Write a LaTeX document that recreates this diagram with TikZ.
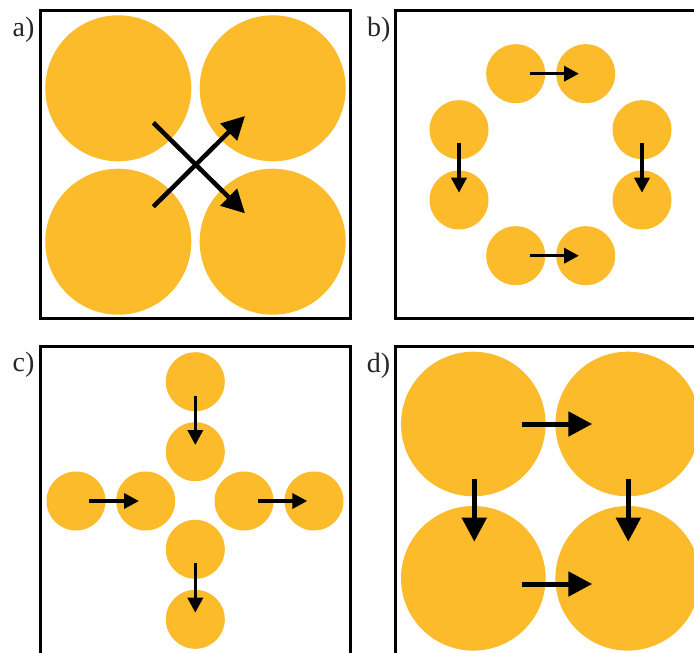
\documentclass[tikz,border=0pt]{standalone}
\usepackage{fontspec}
\setmainfont{Liberation Serif}
\usetikzlibrary{arrows.meta}
\definecolor{ballc}{RGB}{251,187,43}
\begin{document}
\begin{tikzpicture}[x=1pt,y=-1pt,
  bigball/.style={circle,fill=ballc,inner sep=0pt,minimum size=146pt},
  smallball/.style={circle,fill=ballc,inner sep=0pt,minimum size=59pt},
  frame/.style={line width=3pt,draw=black},
  lab/.style={anchor=base west,inner sep=0pt,font=\fontsize{28}{30}\selectfont,text=black!85},
  bigarrow/.style={line width=4.5pt,-{Triangle[length=23pt,width=23pt]}},
  darrow/.style={line width=5pt,-{Triangle[length=24pt,width=24pt]}},
  smallarrow/.style={line width=3.5pt,-{Triangle[length=15pt,width=15pt]}}]
\clip (0,0) rectangle (694,653);
\fill[white] (0,0) rectangle (694,653);
% panel a
\draw[frame] (40.7,10.7) rectangle (350,318);
\node[lab] (la) at (12.5,36) {a)};
\node[bigball] (a1) at (118.3,88.3) {};
\node[bigball] (a2) at (272.7,88.3) {};
\node[bigball] (a3) at (118.3,241.7) {};
\node[bigball] (a4) at (272.7,241.7) {};
\coordinate (as1) at (153.3,122.7); \coordinate (at1) at (245,213.3);
\coordinate (as2) at (153.3,206.7); \coordinate (at2) at (245,116);
\draw[bigarrow] (as1) -- (at1);
\draw[bigarrow] (as2) -- (at2);
% panel b
\draw[frame] (720,10.7) -- (395.7,10.7) -- (395.7,318) -- (720,318);
\node[lab] (lb) at (367,36) {b)};
\node[smallball] (b1) at (515.7,73.7) {};
\node[smallball] (b2) at (585.7,73.7) {};
\node[smallball] (b3) at (459,129.7) {};
\node[smallball] (b4) at (459,200) {};
\node[smallball] (b5) at (642,129.7) {};
\node[smallball] (b6) at (642,200) {};
\node[smallball] (b7) at (515.7,255.7) {};
\node[smallball] (b8) at (585.7,255.7) {};
\coordinate (bs1) at (530,73.7); \coordinate (bt1) at (579,73.7);
\coordinate (bs2) at (459,143.3); \coordinate (bt2) at (459,192.7);
\coordinate (bs3) at (642,143.3); \coordinate (bt3) at (642,192.7);
\coordinate (bs4) at (530,255.7); \coordinate (bt4) at (579,255.7);
\draw[smallarrow] (bs1) -- (bt1);
\draw[smallarrow] (bs2) -- (bt2);
\draw[smallarrow] (bs3) -- (bt3);
\draw[smallarrow] (bs4) -- (bt4);
% panel c
\draw[frame] (40.7,680) -- (40.7,346) -- (350,346) -- (350,680);
\node[lab] (lc) at (12.5,371.5) {c)};
\node[smallball] (c1) at (195.3,381.7) {};
\node[smallball] (c2) at (195.3,451.7) {};
\node[smallball] (c3) at (76,501) {};
\node[smallball] (c4) at (145.7,501) {};
\node[smallball] (c5) at (244,501) {};
\node[smallball] (c6) at (314,501) {};
\node[smallball] (c7) at (195.3,549.3) {};
\node[smallball] (c8) at (195.3,619.3) {};
\coordinate (cs1) at (195.3,395.7); \coordinate (ct1) at (195.3,445);
\coordinate (cs2) at (89.3,501); \coordinate (ct2) at (139,501);
\coordinate (cs3) at (257.7,501); \coordinate (ct3) at (307.3,501);
\coordinate (cs4) at (195.3,563.3); \coordinate (ct4) at (195.3,612.7);
\draw[smallarrow] (cs1) -- (ct1);
\draw[smallarrow] (cs2) -- (ct2);
\draw[smallarrow] (cs3) -- (ct3);
\draw[smallarrow] (cs4) -- (ct4);
% panel d
\draw[frame] (395,680) -- (395,346.7) -- (720,346.7);
\node[lab] (ld) at (366.7,372.5) {d)};
\node[bigball,minimum size=144.6pt] (d1) at (473.3,424) {};
\node[bigball,minimum size=144.6pt] (d2) at (627.7,424) {};
\node[bigball,minimum size=144.6pt] (d3) at (473.3,578.3) {};
\node[bigball,minimum size=144.6pt] (d4) at (627.7,578.3) {};
\coordinate (ds1) at (522.3,424); \coordinate (dt1) at (592.3,424);
\coordinate (ds2) at (522.3,584); \coordinate (dt2) at (592.3,584);
\coordinate (ds3) at (474.3,479.3); \coordinate (dt3) at (474.3,541.7);
\coordinate (ds4) at (628.3,479.3); \coordinate (dt4) at (628.3,541.7);
\draw[darrow] (ds1) -- (dt1);
\draw[darrow] (ds2) -- (dt2);
\draw[darrow] (ds3) -- (dt3);
\draw[darrow] (ds4) -- (dt4);
\end{tikzpicture}
\end{document}
